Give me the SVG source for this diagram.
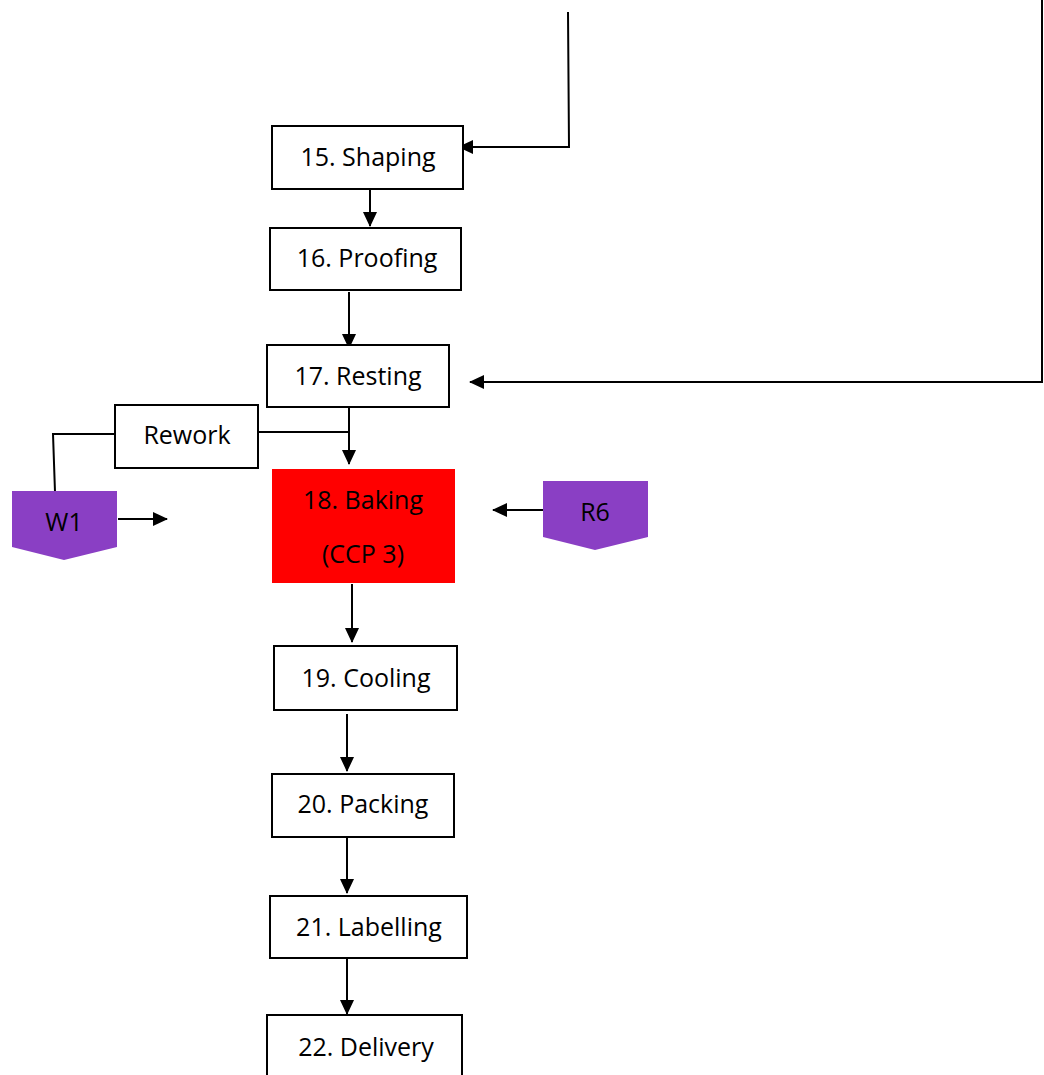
<svg xmlns="http://www.w3.org/2000/svg" width="1044" height="1075" viewBox="0 0 1044 1075">
  <style>
    .box { fill: #ffffff; stroke: #000000; stroke-width: 2; }
    .ccp { fill: #ff0000; stroke: none; }
    .tag { fill: #8a3fc4; stroke: none; }
    .lbl { font-family: "Open Sans", "Noto Sans", "DejaVu Sans", sans-serif; font-size: 25px; fill: #000000; text-anchor: middle; }
    .wire { fill: none; stroke: #000000; stroke-width: 2; }
    .arrow { fill: none; stroke: #000000; stroke-width: 2; marker-end: url(#head); }
  </style>
  <defs>
    <marker id="head" viewBox="0 0 15 14" refX="14" refY="7" markerWidth="15" markerHeight="14" markerUnits="userSpaceOnUse" orient="auto">
      <path d="M0,0 L15,7 L0,14 Z" fill="#000000"/>
    </marker>
  </defs>
  <rect width="1044" height="1075" fill="#ffffff"/>

  <!-- connectors -->
  <g id="connectors">
    <polyline class="arrow" points="568,12 569,147 459,147"/>
    <line class="arrow" x1="370" y1="190" x2="370" y2="226"/>
    <line class="arrow" x1="349" y1="292" x2="349" y2="348"/>
    <polyline class="arrow" points="1042,0 1042,382 470,382"/>
    <line class="arrow" x1="349" y1="407" x2="349" y2="464"/>
    <line class="wire" x1="258" y1="432" x2="349" y2="432"/>
    <polyline class="wire" points="115,434 53,434 55,492"/>
    <line class="arrow" x1="118" y1="519" x2="167" y2="519"/>
    <line class="arrow" x1="543" y1="510" x2="493" y2="510"/>
    <line class="arrow" x1="352" y1="584" x2="352" y2="642"/>
    <line class="arrow" x1="347" y1="714" x2="347" y2="771"/>
    <line class="arrow" x1="347" y1="838" x2="347" y2="893"/>
    <line class="arrow" x1="347" y1="959" x2="347" y2="1014"/>
  </g>

  <g id="shaping">
    <rect class="box" x="272" y="126" width="191" height="63"/>
    <text class="lbl" x="368" y="166">15. Shaping</text>
  </g>
  <g id="proofing">
    <rect class="box" x="270" y="228" width="191" height="62"/>
    <text class="lbl" x="367" y="267">16. Proofing</text>
  </g>
  <g id="resting">
    <rect class="box" x="267" y="345" width="182" height="62"/>
    <text class="lbl" x="358" y="385">17. Resting</text>
  </g>
  <g id="rework">
    <rect class="box" x="115" y="405" width="143" height="63"/>
    <text class="lbl" x="187" y="444">Rework</text>
  </g>
  <g id="w1">
    <polygon class="tag" points="12,491 117,491 117,547 64,560 12,547"/>
    <text class="lbl" x="64" y="531">W1</text>
  </g>
  <g id="baking">
    <rect class="ccp" x="272" y="469" width="183" height="114"/>
    <text class="lbl" x="363" y="509">18. Baking</text>
    <text class="lbl" x="363" y="563">(CCP 3)</text>
  </g>
  <g id="r6">
    <polygon class="tag" points="543,481 648,481 648,537 595,550 543,537"/>
    <text class="lbl" x="595" y="521">R6</text>
  </g>
  <g id="cooling">
    <rect class="box" x="274" y="646" width="183" height="64"/>
    <text class="lbl" x="366" y="687">19. Cooling</text>
  </g>
  <g id="packing">
    <rect class="box" x="272" y="774" width="182" height="63"/>
    <text class="lbl" x="363" y="813">20. Packing</text>
  </g>
  <g id="labelling">
    <rect class="box" x="270" y="896" width="197" height="62"/>
    <text class="lbl" x="369" y="936">21. Labelling</text>
  </g>
  <g id="delivery">
    <rect class="box" x="267" y="1015" width="195" height="70"/>
    <text class="lbl" x="366" y="1056">22. Delivery</text>
  </g>
</svg>
